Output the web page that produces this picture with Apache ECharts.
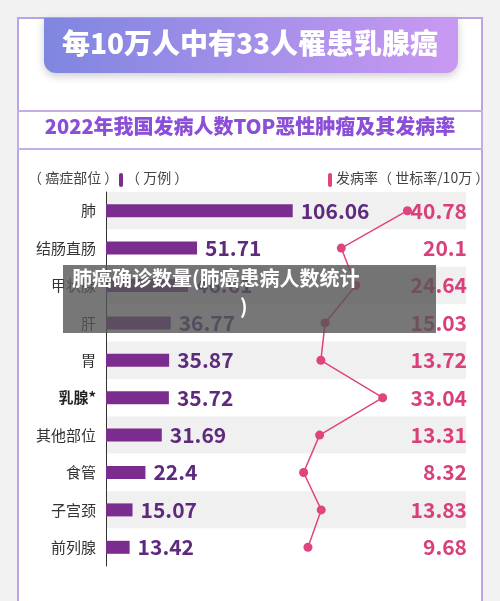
<!DOCTYPE html><html><head><meta charset="utf-8">
<script src="https://cdn.jsdelivr.net/npm/echarts@6/dist/echarts.min.js"></script>
<style>html,body{margin:0;padding:0;background:#f2f2f2}#c{width:500px;height:601px}</style></head><body><div id="c"></div>
<script>
const categories=['肺','结肠直肠','甲状腺','肝','胃','乳腺*','其他部位','食管','子宫颈','前列腺'];
const cases=[106.06,51.71,46.61,36.77,35.87,35.72,31.69,22.4,15.07,13.42];
const rates=[40.78,20.1,24.64,15.03,13.72,33.04,13.31,8.32,13.83,9.68];
const rateLabels=['40.78','20.1','24.64','15.03','13.72','33.04','13.31','8.32','13.83','9.68'];
const FF='"Noto Sans CJK SC","Noto Sans",sans-serif';
const chart=echarts.init(document.getElementById('c'));
chart.setOption({
 animation:false,
 backgroundColor:'#f2f2f2',
 textStyle:{fontFamily:FF},
 graphic:[
  {type:'rect',shape:{x:18,y:18,width:464,height:600},style:{fill:'#fff',stroke:'#b9a5e6',lineWidth:2},z:-10},
  {type:'rect',shape:{x:44,y:18,width:414,height:55,r:[0,0,12,12]},style:{fill:new echarts.graphic.LinearGradient(0,0,1,0,[{offset:0,color:'#7f86e0'},{offset:1,color:'#c999f2'}]),shadowBlur:8,shadowColor:'rgba(0,0,0,0.2)',shadowOffsetY:3},z:-5},
  {type:'text',left:'center',top:29,style:{text:'每10万人中有33人罹患乳腺癌',fill:'#fff',font:'900 28px '+FF},z:10},
  {type:'rect',shape:{x:18,y:111,width:464,height:38},style:{fill:'#fff',stroke:'#c3aee8',lineWidth:2},z:-5},
  {type:'text',left:'center',top:116,style:{text:'2022年我国发病人数TOP恶性肿瘤及其发病率',fill:'#8a4fd6',font:'900 20px '+FF},z:10},
  {type:'text',left:28,top:171,style:{text:'（ 癌症部位 ）',fill:'#444',font:'14px '+FF}},
  {type:'rect',shape:{x:119,y:173,width:4,height:14,r:2},style:{fill:'#7a2d8e'}},
  {type:'text',left:126,top:171,style:{text:'（ 万例 ）',fill:'#444',font:'14px '+FF}},
  {type:'rect',shape:{x:328,y:173,width:4,height:14,r:2},style:{fill:'#e0447e'}},
  {type:'text',left:336,top:171,style:{text:'发病率（ 世标率/10万 ）',fill:'#444',font:'14px '+FF}},
  {type:'rect',shape:{x:63,y:265,width:373,height:68},style:{fill:'rgba(85,85,85,0.8)'},z:50},
  {type:'text',left:72,top:268,style:{text:'肺癌确诊数量(肺癌患病人数统计',fill:'#fff',font:'bold 20px '+FF},z:51},
  {type:'text',left:240,top:296,style:{text:')',fill:'#fff',font:'bold 20px '+FF},z:51}
 ],
 grid:[{left:106,top:192,width:360,height:374},{left:277,top:192,width:150,height:374}],
 xAxis:[{gridIndex:0,type:'value',min:0,max:204.5,show:false},{gridIndex:1,type:'value',min:0,max:46.9,show:false}],
 yAxis:[
  {gridIndex:0,type:'category',data:categories,inverse:true,axisTick:{show:false},
   axisLine:{lineStyle:{color:'#333',width:1}},
   splitArea:{show:true,areaStyle:{color:['#f0f0f0','#fff']}},
   axisLabel:{fontSize:15,color:'#333',margin:10,formatter:v=>v==='乳腺*'?'{b|'+v+'}':v,rich:{b:{fontWeight:'bold',fontSize:15,color:'#222'}}}},
  {gridIndex:1,type:'category',data:rateLabels,inverse:true,position:'right',axisLine:{show:false},axisTick:{show:false},
   axisLabel:{align:'right',margin:40,fontSize:21,fontWeight:'bold',color:'#d93f7a'}}
 ],
 series:[
  {type:'bar',xAxisIndex:0,yAxisIndex:0,data:cases,barWidth:13,itemStyle:{color:'#7a2d8e'},
   label:{show:true,position:'right',distance:8,fontSize:21,fontWeight:'bold',color:'#5e2a7e'}},
  {type:'line',xAxisIndex:1,yAxisIndex:1,data:rates.map((r,i)=>[r,rateLabels[i]]),symbol:'circle',symbolSize:9,
   lineStyle:{color:'#e0447e',width:1.5},itemStyle:{color:'#e0447e'}}
 ]
});
</script></body></html>
